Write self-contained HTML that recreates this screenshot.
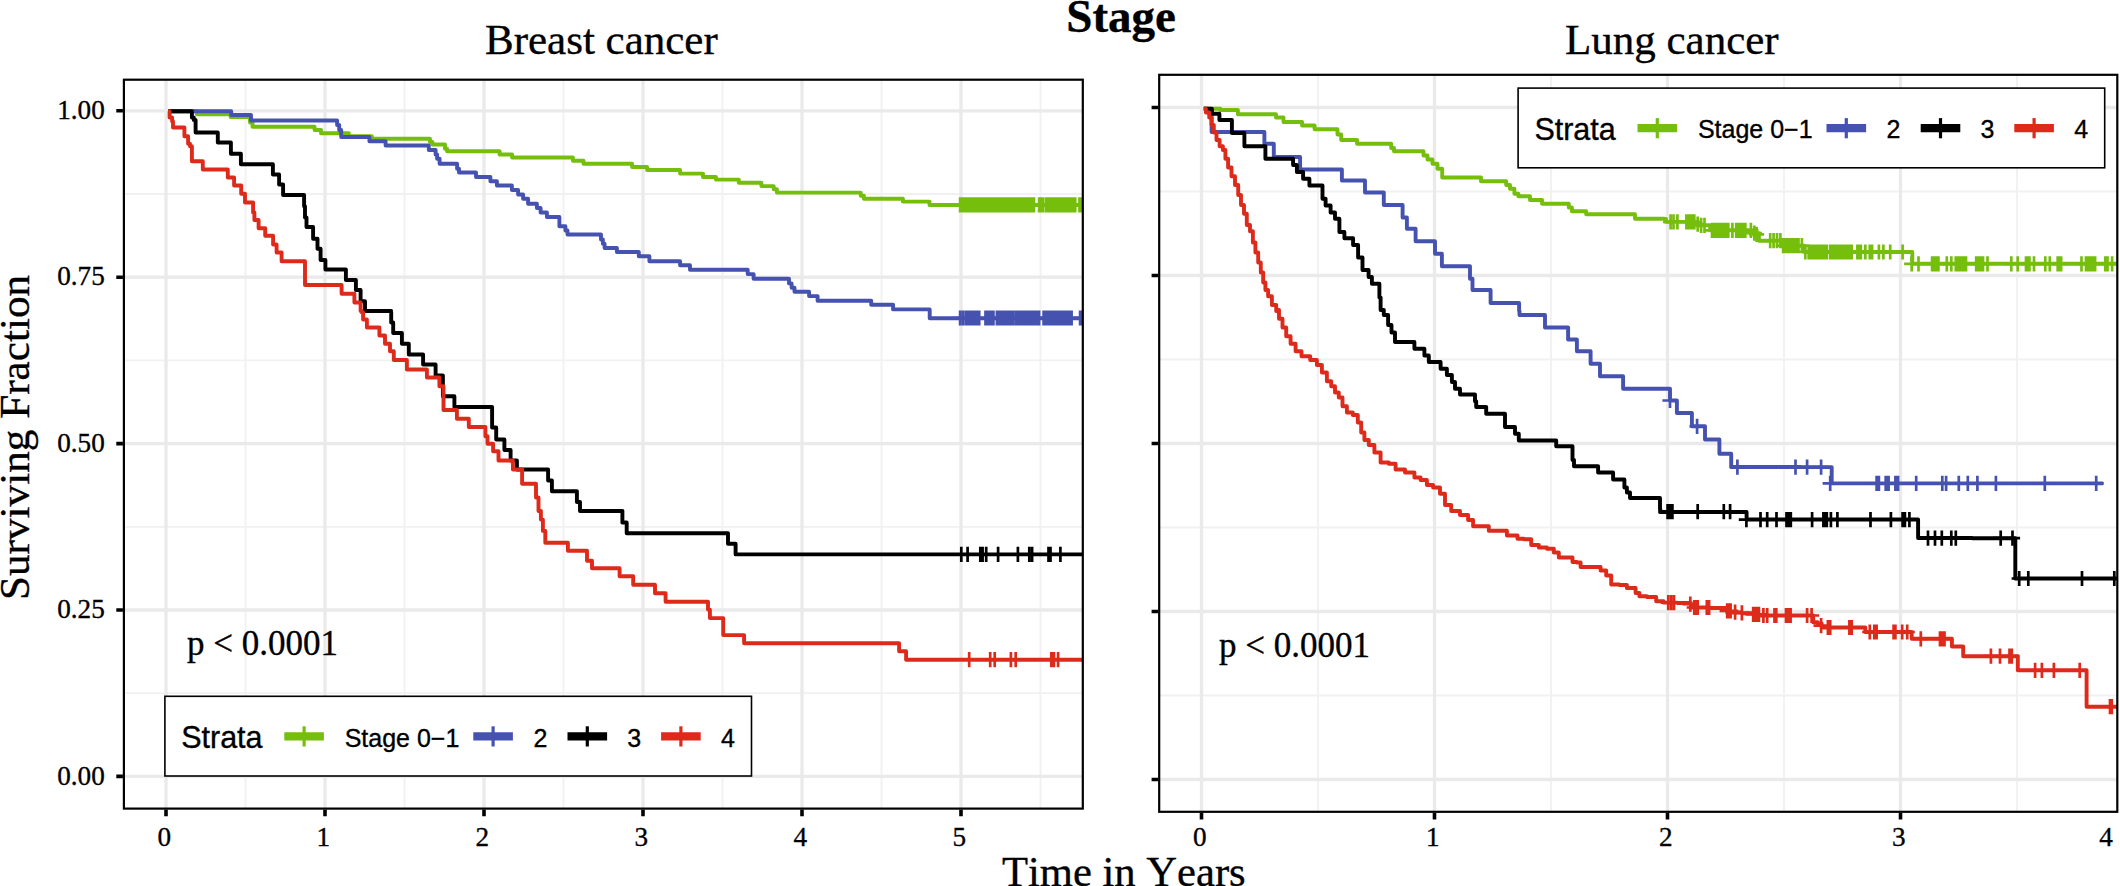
<!DOCTYPE html>
<html><head><meta charset="utf-8"><title>Stage</title>
<style>html,body{margin:0;padding:0;background:#fff}svg{display:block}text{font-kerning:none;stroke:#000;stroke-width:0.35px}</style></head>
<body>
<svg width="2120" height="886" viewBox="0 0 2120 886">
<rect width="2120" height="886" fill="#fff"/>
<clipPath id="cl"><rect x="123.9" y="79.7" width="958.9" height="728.9"/></clipPath>
<path d="M245.5,79.7V808.6M404.5,79.7V808.6M563.5,79.7V808.6M722.5,79.7V808.6M881.5,79.7V808.6M1040.5,79.7V808.6M123.9,693.2H1082.8M123.9,526.8H1082.8M123.9,360.4H1082.8M123.9,194.0H1082.8" stroke="#F1F1F1" stroke-width="1.8" fill="none"/>
<path d="M166.0,79.7V808.6M325.0,79.7V808.6M484.0,79.7V808.6M643.0,79.7V808.6M802.0,79.7V808.6M961.0,79.7V808.6M123.9,776.4H1082.8M123.9,610.0H1082.8M123.9,443.6H1082.8M123.9,277.2H1082.8M123.9,110.8H1082.8" stroke="#EAEAEA" stroke-width="3.3" fill="none"/>
<g clip-path="url(#cl)">
<path d="M168.0,111.2H196.2H196.9V114.2H197.5H230.0H230.6V117.0H231.2H248.8H250.0V122.5H251.2H252.5V126.8H253.8H313.8H314.6V130.0H315.5H320.0H321.0V133.2H322.0H347.5H348.8V136.2H350.0H371.2H371.9V138.8H372.5H428.8H430.0V142.0H431.2H432.5V144.5H433.8H443.8H445.0V148.8H446.2H447.1V151.2H448.0H498.8H499.6V154.5H500.5H511.2H512.1V157.5H513.0H572.0H572.9V160.8H573.8H582.5H583.5V163.8H584.5H631.2H632.1V167.0H633.0H646.2H647.1V170.0H648.0H680.0H680.1V173.6H680.2H702.3H703.0V177.0H703.6H715.3H715.9V179.6H716.6H738.1H738.8V182.7H739.4H760.7H761.4V186.1H762.0H772.4H773.7V189.2H775.0H776.9V192.6H778.9H859.4H860.7V195.7H862.0H863.9V198.8H865.9H902.2H902.9V201.6H903.5H928.7H929.5V205.0H930.2H1082.6" stroke="#76BE0C" stroke-width="3.9" fill="none" stroke-linejoin="round" stroke-linecap="butt"/>
<path d="M960.1,197.2v15.2M952.5,204.8h15.2M962.0,197.2v15.2M954.4,204.8h15.2M963.9,197.2v15.2M956.3,204.8h15.2M965.8,197.2v15.2M958.2,204.8h15.2M967.7,197.2v15.2M960.1,204.8h15.2M969.6,197.2v15.2M962.0,204.8h15.2M971.5,197.2v15.2M963.9,204.8h15.2M973.4,197.2v15.2M965.8,204.8h15.2M975.3,197.2v15.2M967.7,204.8h15.2M977.2,197.2v15.2M969.6,204.8h15.2M979.1,197.2v15.2M971.5,204.8h15.2M980.9,197.2v15.2M973.3,204.8h15.2M982.8,197.2v15.2M975.2,204.8h15.2M984.7,197.2v15.2M977.1,204.8h15.2M986.6,197.2v15.2M979.0,204.8h15.2M988.5,197.2v15.2M980.9,204.8h15.2M990.4,197.2v15.2M982.8,204.8h15.2M992.3,197.2v15.2M984.7,204.8h15.2M994.2,197.2v15.2M986.6,204.8h15.2M996.1,197.2v15.2M988.5,204.8h15.2M998.0,197.2v15.2M990.4,204.8h15.2M999.9,197.2v15.2M992.3,204.8h15.2M1001.8,197.2v15.2M994.2,204.8h15.2M1003.7,197.2v15.2M996.1,204.8h15.2M1005.6,197.2v15.2M998.0,204.8h15.2M1007.5,197.2v15.2M999.9,204.8h15.2M1009.4,197.2v15.2M1001.8,204.8h15.2M1011.3,197.2v15.2M1003.7,204.8h15.2M1013.2,197.2v15.2M1005.6,204.8h15.2M1015.1,197.2v15.2M1007.5,204.8h15.2M1017.0,197.2v15.2M1009.4,204.8h15.2M1018.8,197.2v15.2M1011.2,204.8h15.2M1020.7,197.2v15.2M1013.1,204.8h15.2M1022.6,197.2v15.2M1015.0,204.8h15.2M1024.5,197.2v15.2M1016.9,204.8h15.2M1026.4,197.2v15.2M1018.8,204.8h15.2M1028.3,197.2v15.2M1020.7,204.8h15.2M1030.2,197.2v15.2M1022.6,204.8h15.2M1032.1,197.2v15.2M1024.5,204.8h15.2M1034.0,197.2v15.2M1026.4,204.8h15.2M1039.1,197.2v15.2M1031.5,204.8h15.2M1040.9,197.2v15.2M1033.3,204.8h15.2M1042.9,197.2v15.2M1035.3,204.8h15.2M1046.0,197.2v15.2M1038.4,204.8h15.2M1047.9,197.2v15.2M1040.3,204.8h15.2M1049.9,197.2v15.2M1042.3,204.8h15.2M1051.8,197.2v15.2M1044.2,204.8h15.2M1053.8,197.2v15.2M1046.2,204.8h15.2M1055.7,197.2v15.2M1048.1,204.8h15.2M1057.7,197.2v15.2M1050.1,204.8h15.2M1059.6,197.2v15.2M1052.0,204.8h15.2M1061.6,197.2v15.2M1054.0,204.8h15.2M1063.5,197.2v15.2M1055.9,204.8h15.2M1065.5,197.2v15.2M1057.9,204.8h15.2M1067.4,197.2v15.2M1059.8,204.8h15.2M1069.4,197.2v15.2M1061.8,204.8h15.2M1071.3,197.2v15.2M1063.7,204.8h15.2M1073.3,197.2v15.2M1065.7,204.8h15.2M1075.2,197.2v15.2M1067.6,204.8h15.2M1079.5,197.2v15.2M1071.9,204.8h15.2M1081.3,197.2v15.2M1073.7,204.8h15.2" stroke="#76BE0C" stroke-width="2.7" fill="none"/>
<path d="M168.0,111.2H230.5H231.2V115.0H232.0H250.0H251.0V120.5H252.0H336.2H337.1V125.0H338.0H339.2V130.0H340.5H341.2V137.0H342.0H368.8H369.4V141.2H370.0H385.0H385.6V145.5H386.2H428.0H428.8V150.0H429.5H435.0H435.6V154.5H436.2H437.1V158.8H438.0H439.6V163.8H441.2H456.2H457.1V168.8H458.0H459.0V172.5H460.0H475.0H476.0V177.0H477.0H489.5H490.4V181.2H491.2H496.2H496.9V185.5H497.5H511.2H511.9V190.0H512.5H517.5H518.1V194.5H518.8H522.5H523.1V198.8H523.8H527.5H528.1V203.8H528.8H536.2H536.9V208.0H537.5H540.0H540.6V212.5H541.2H546.2H546.9V217.0H547.5H558.8H559.4V226.2H560.0H564.5H565.4V230.5H566.2H567.5V234.5H568.8H600.0H601.0V239.5H602.0H602.9V243.8H603.8H604.6V248.0H605.5H616.2H616.9V252.0H617.5H638.0H638.8V256.2H639.5H648.8H649.4V261.2H650.0H680.0H680.1V265.2H680.2H689.3H690.0V269.7H690.6H747.0H747.7V274.1H748.5H752.9H753.6V278.7H754.2H788.0H789.0V283.4H790.1H791.6V287.8H793.2H794.5V291.7H795.8H808.2H809.1V296.1H810.0H816.5H817.6V300.8H818.6H870.5H871.2V304.7H871.8H892.3H893.1V309.4H893.9H928.7H929.7V318.2H930.8H1082.6" stroke="#4652B0" stroke-width="3.9" fill="none" stroke-linejoin="round" stroke-linecap="butt"/>
<path d="M960.1,310.4v15.2M952.5,318.0h15.2M962.9,310.4v15.2M955.3,318.0h15.2M965.8,310.4v15.2M958.2,318.0h15.2M967.7,310.4v15.2M960.1,318.0h15.2M969.6,310.4v15.2M962.0,318.0h15.2M971.5,310.4v15.2M963.9,318.0h15.2M973.4,310.4v15.2M965.8,318.0h15.2M975.4,310.4v15.2M967.8,318.0h15.2M977.3,310.4v15.2M969.7,318.0h15.2M979.2,310.4v15.2M971.6,318.0h15.2M985.5,310.4v15.2M977.9,318.0h15.2M987.5,310.4v15.2M979.9,318.0h15.2M989.4,310.4v15.2M981.8,318.0h15.2M991.4,310.4v15.2M983.8,318.0h15.2M993.4,310.4v15.2M985.8,318.0h15.2M996.9,310.4v15.2M989.3,318.0h15.2M998.7,310.4v15.2M991.1,318.0h15.2M1000.5,310.4v15.2M992.9,318.0h15.2M1002.9,310.4v15.2M995.3,318.0h15.2M1004.9,310.4v15.2M997.3,318.0h15.2M1006.8,310.4v15.2M999.2,318.0h15.2M1008.8,310.4v15.2M1001.2,318.0h15.2M1010.7,310.4v15.2M1003.1,318.0h15.2M1012.7,310.4v15.2M1005.1,318.0h15.2M1015.5,310.4v15.2M1007.9,318.0h15.2M1017.6,310.4v15.2M1010.0,318.0h15.2M1019.7,310.4v15.2M1012.1,318.0h15.2M1021.7,310.4v15.2M1014.1,318.0h15.2M1023.8,310.4v15.2M1016.2,318.0h15.2M1025.9,310.4v15.2M1018.3,318.0h15.2M1027.7,310.4v15.2M1020.1,318.0h15.2M1029.8,310.4v15.2M1022.2,318.0h15.2M1032.0,310.4v15.2M1024.4,318.0h15.2M1033.8,310.4v15.2M1026.2,318.0h15.2M1035.6,310.4v15.2M1028.0,318.0h15.2M1037.3,310.4v15.2M1029.7,318.0h15.2M1039.1,310.4v15.2M1031.5,318.0h15.2M1043.6,310.4v15.2M1036.0,318.0h15.2M1045.5,310.4v15.2M1037.9,318.0h15.2M1047.5,310.4v15.2M1039.9,318.0h15.2M1049.5,310.4v15.2M1041.9,318.0h15.2M1051.5,310.4v15.2M1043.9,318.0h15.2M1053.5,310.4v15.2M1045.9,318.0h15.2M1055.5,310.4v15.2M1047.9,318.0h15.2M1057.5,310.4v15.2M1049.9,318.0h15.2M1059.5,310.4v15.2M1051.9,318.0h15.2M1061.5,310.4v15.2M1053.9,318.0h15.2M1063.5,310.4v15.2M1055.9,318.0h15.2M1065.9,310.4v15.2M1058.3,318.0h15.2M1067.8,310.4v15.2M1060.2,318.0h15.2M1069.7,310.4v15.2M1062.1,318.0h15.2M1071.6,310.4v15.2M1064.0,318.0h15.2M1080.1,310.4v15.2M1072.5,318.0h15.2M1081.3,310.4v15.2M1073.7,318.0h15.2" stroke="#4652B0" stroke-width="2.7" fill="none"/>
<path d="M168.0,111.2H191.2H191.9V117.5H192.5H193.8V120.0H195.0H195.6V132.5H196.2H217.5H217.8V142.5H218.0H230.5H230.9V153.8H231.2H240.5H240.9V164.2H241.2H272.5H272.9V174.5H273.2H278.8H279.1V184.5H279.5H282.5H283.1V195.0H283.8H303.8H304.1V206.2H304.5H305.0V217.5H305.5H306.5V227.0H307.5H312.5H313.1V238.8H313.8H317.0H317.5V248.8H318.0H320.0H320.6V260.0H321.2H325.0H325.4V269.5H325.8H345.5H345.9V280.0H346.2H355.5H355.9V290.0H356.2H360.0H360.6V301.2H361.2H364.5H365.0V311.0H365.5H391.2H390.9V312.0H390.5H391.2V322.5H392.0H393.2V333.0H394.5H401.2H401.9V343.8H402.5H408.0H408.8V354.5H409.5H422.5H423.1V364.5H423.8H435.0H435.6V375.5H436.2H442.0H442.9V396.2H443.8H453.8H454.4V407.0H455.0H491.2H492.1V427.5H493.0H495.5H496.2V439.5H497.0H503.8H504.4V450.0H505.0H510.0H510.6V460.5H511.2H516.2H516.9V469.5H517.5H547.5H548.1V480.5H548.8H551.2H551.9V491.2H552.5H576.2H576.9V502.0H577.5H579.5H580.0V511.0H580.5H622.5H622.4V522.5H622.3H625.9H626.7V533.2H627.4H727.3H728.0V543.7H728.7H734.9H735.6V554.4H736.3H1083.6" stroke="#000000" stroke-width="3.9" fill="none" stroke-linejoin="round" stroke-linecap="butt"/>
<path d="M961.3,546.8v15.2M953.7,554.4h15.2M967.6,546.8v15.2M960.0,554.4h15.2M980.3,546.8v15.2M972.7,554.4h15.2M982.6,546.8v15.2M975.0,554.4h15.2M986.2,546.8v15.2M978.6,554.4h15.2M998.1,546.8v15.2M990.5,554.4h15.2M1017.9,546.8v15.2M1010.3,554.4h15.2M1029.3,546.8v15.2M1021.7,554.4h15.2M1032.1,546.8v15.2M1024.5,554.4h15.2M1048.5,546.8v15.2M1040.9,554.4h15.2M1050.5,546.8v15.2M1042.9,554.4h15.2M1060.4,546.8v15.2M1052.8,554.4h15.2" stroke="#000000" stroke-width="2.7" fill="none"/>
<path d="M168.0,111.2H169.6V117.5H171.2H172.1V121.2H173.0V127.5H183.8H184.4V136.2H185.0H187.5H188.1V143.8H188.8H190.0V146.2H191.2H191.9V161.2H192.5H202.5H202.8V169.5H203.0H227.5H227.8V177.5H228.0H233.8H234.1V185.5H234.5H240.5H241.2V193.8H242.0H244.5H245.0V202.5H245.5H252.5H253.1V212.5H253.8H254.4V220.0H255.0H258.0H258.6V228.2H259.2H265.0H265.2V235.8H265.5H272.5H273.1V244.5H273.8H276.2H276.6V252.5H277.0H281.2H281.6V261.2H282.0H304.5H305.0V285.0H305.5H341.2H341.6V293.8H342.0H353.8H354.4V302.5H355.0H360.0H360.6V311.0H361.2H361.9V312.5H362.5H363.1V319.5H363.8H366.2H366.9V327.5H367.5H378.8H379.4V335.5H380.0H384.5H385.0V343.8H385.5H389.5H390.0V351.2H390.5H393.0H393.8V360.0H394.5H406.2H406.9V369.5H407.5H426.2H426.9V377.5H427.5H438.8H439.4V386.2H440.0H442.5H443.5V410.0H444.5H456.2H456.9V418.8H457.5H468.0H468.8V427.0H469.5H484.5H485.4V436.2H486.2H487.5V443.8H488.8H492.5H493.1V451.2H493.8H497.5H498.5V460.5H499.5H512.0H512.9V469.5H513.8H521.2H522.1V483.8H523.0H535.0H536.0V497.5H537.0H538.5V511.0H540.0H540.9V519.6H541.9H542.9V530.9H543.9H545.3V542.8H546.7H567.4H567.9V550.8H568.5H586.3H587.0V560.7H587.7H591.1H592.0V568.3H592.8H618.9H619.6V576.2H620.3H632.5H633.2V584.7H633.9H654.2H655.0V593.2H655.7H664.7H665.6V601.7H666.4H707.2H708.0V609.6H708.9H709.9V618.1H710.9H722.2H723.2V635.1H724.2H743.4H744.1V643.3H744.8H898.5H899.1V651.2H899.6H905.3H906.1V659.7H907.0H1083.6" stroke="#DE2A1B" stroke-width="3.9" fill="none" stroke-linejoin="round" stroke-linecap="butt"/>
<path d="M969.2,652.1v15.2M961.6,659.7h15.2M990.2,652.1v15.2M982.6,659.7h15.2M994.7,652.1v15.2M987.1,659.7h15.2M1010.9,652.1v15.2M1003.3,659.7h15.2M1015.7,652.1v15.2M1008.1,659.7h15.2M1051.3,652.1v15.2M1043.7,659.7h15.2M1053.9,652.1v15.2M1046.3,659.7h15.2M1058.1,652.1v15.2M1050.5,659.7h15.2" stroke="#DE2A1B" stroke-width="2.7" fill="none"/>
</g>
<g transform="translate(0.0,0.0)">
<rect x="164.9" y="696.3" width="586.6" height="79.7" fill="#fff" stroke="#000" stroke-width="1.6"/>
<text x="181.2" y="747.8" font-family="Liberation Sans, Arial, Helvetica, sans-serif" font-size="30.5">Strata</text>
<path d="M284.3,736.4h39.6" stroke="#76BE0C" stroke-width="8.3" fill="none"/>
<path d="M304.1,726.3v20.2" stroke="#76BE0C" stroke-width="3.2" fill="none"/>
<path d="M473.3,736.4h39.6" stroke="#4652B0" stroke-width="8.3" fill="none"/>
<path d="M493.1,726.3v20.2" stroke="#4652B0" stroke-width="3.2" fill="none"/>
<path d="M567.5,736.4h39.6" stroke="#000000" stroke-width="8.3" fill="none"/>
<path d="M587.3,726.3v20.2" stroke="#000000" stroke-width="3.2" fill="none"/>
<path d="M661.1,736.4h39.6" stroke="#DE2A1B" stroke-width="8.3" fill="none"/>
<path d="M680.9,726.3v20.2" stroke="#DE2A1B" stroke-width="3.2" fill="none"/>
<text x="344.7" y="746.6" font-family="Liberation Sans, Arial, Helvetica, sans-serif" font-size="25">Stage 0−1</text>
<text x="533.4" y="746.6" font-family="Liberation Sans, Arial, Helvetica, sans-serif" font-size="25">2</text>
<text x="627.3" y="746.6" font-family="Liberation Sans, Arial, Helvetica, sans-serif" font-size="25">3</text>
<text x="721.0" y="746.6" font-family="Liberation Sans, Arial, Helvetica, sans-serif" font-size="25">4</text>
</g>
<text x="186.9" y="654.5" font-family="Liberation Serif, Times New Roman, Times, serif" font-size="35">p &lt; 0.0001</text>
<rect x="123.9" y="79.7" width="958.9" height="728.9" fill="none" stroke="#000" stroke-width="2.2"/>
<path d="M122.9,776.4h-6.6M122.9,610.0h-6.6M122.9,443.6h-6.6M122.9,277.2h-6.6M122.9,110.8h-6.6M166.0,809.6v6.6M325.0,809.6v6.6M484.0,809.6v6.6M643.0,809.6v6.6M802.0,809.6v6.6M961.0,809.6v6.6" stroke="#000" stroke-width="3.6" fill="none"/>
<text x="104.8" y="784.6" text-anchor="end" font-family="Liberation Serif, Times New Roman, Times, serif" font-size="27.2">0.00</text>
<text x="104.8" y="618.2" text-anchor="end" font-family="Liberation Serif, Times New Roman, Times, serif" font-size="27.2">0.25</text>
<text x="104.8" y="451.8" text-anchor="end" font-family="Liberation Serif, Times New Roman, Times, serif" font-size="27.2">0.50</text>
<text x="104.8" y="285.4" text-anchor="end" font-family="Liberation Serif, Times New Roman, Times, serif" font-size="27.2">0.75</text>
<text x="104.8" y="119.0" text-anchor="end" font-family="Liberation Serif, Times New Roman, Times, serif" font-size="27.2">1.00</text>
<text x="164.4" y="846" text-anchor="middle" font-family="Liberation Serif, Times New Roman, Times, serif" font-size="27.2">0</text>
<text x="323.4" y="846" text-anchor="middle" font-family="Liberation Serif, Times New Roman, Times, serif" font-size="27.2">1</text>
<text x="482.4" y="846" text-anchor="middle" font-family="Liberation Serif, Times New Roman, Times, serif" font-size="27.2">2</text>
<text x="641.4" y="846" text-anchor="middle" font-family="Liberation Serif, Times New Roman, Times, serif" font-size="27.2">3</text>
<text x="800.4" y="846" text-anchor="middle" font-family="Liberation Serif, Times New Roman, Times, serif" font-size="27.2">4</text>
<text x="959.4" y="846" text-anchor="middle" font-family="Liberation Serif, Times New Roman, Times, serif" font-size="27.2">5</text>
<clipPath id="cr"><rect x="1159.2" y="74.8" width="958.1" height="737.0"/></clipPath>
<path d="M1318.0,74.8V811.8M1551.0,74.8V811.8M1784.0,74.8V811.8M2017.0,74.8V811.8M1159.2,695.5H2117.3M1159.2,527.5H2117.3M1159.2,359.5H2117.3M1159.2,191.5H2117.3" stroke="#F1F1F1" stroke-width="1.8" fill="none"/>
<path d="M1201.5,74.8V811.8M1434.5,74.8V811.8M1667.5,74.8V811.8M1900.5,74.8V811.8M1159.2,779.5H2117.3M1159.2,611.5H2117.3M1159.2,443.5H2117.3M1159.2,275.5H2117.3M1159.2,107.5H2117.3" stroke="#EAEAEA" stroke-width="3.3" fill="none"/>
<g clip-path="url(#cr)">
<path d="M1203.8,108.8H1220.4V110.0H1237.0H1237.9V114.2H1238.8H1275.0H1276.0V117.5H1277.0H1282.5H1283.5V122.0H1284.5H1301.2H1302.1V125.5H1303.0H1313.8H1314.6V129.2H1315.5H1336.2H1337.5V134.5H1338.8H1341.2V140.0H1343.8H1356.2H1357.1V143.8H1358.0H1390.0H1391.2V148.0H1392.5H1394.0V151.2H1395.5H1422.0H1423.5V155.5H1425.0H1427.5V159.5H1430.0H1432.5V163.8H1435.0H1437.5V168.8H1440.0H1442.2V177.5H1444.5H1480.0H1481.0V181.2H1482.0H1505.0H1506.2V185.0H1507.5H1510.0V188.8H1512.5H1514.4V193.8H1516.2H1518.4V196.2H1520.5H1528.8H1530.0V200.0H1531.2H1541.2H1542.1V203.8H1543.0H1567.5H1568.8V207.5H1570.0H1571.9V211.2H1573.8H1585.0H1586.2V214.2H1587.5H1633.8H1635.0V218.8H1636.2H1663.8H1664.3V218.9H1664.9H1666.0V221.9H1667.2H1696.6H1697.5V225.3H1698.4H1707.9H1710.2V230.3H1712.5H1750.9H1752.1V233.2H1753.2H1757.7H1758.9V240.7H1760.0H1780.4H1782.1V245.7H1783.8H1803.0H1804.2V252.0H1805.3H1911.7H1912.3V263.8H1912.8H2118.2" stroke="#76BE0C" stroke-width="3.9" fill="none" stroke-linejoin="round" stroke-linecap="butt"/>
<path d="M1670.6,214.3v15.2M1663.0,221.9h15.2M1673.5,214.3v15.2M1665.9,221.9h15.2M1677.4,214.3v15.2M1669.8,221.9h15.2M1686.4,214.3v15.2M1678.8,221.9h15.2M1688.4,214.3v15.2M1680.8,221.9h15.2M1690.4,214.3v15.2M1682.8,221.9h15.2M1692.4,214.3v15.2M1684.8,221.9h15.2M1694.3,214.3v15.2M1686.7,221.9h15.2M1697.7,216.6v15.2M1690.1,224.2h15.2M1701.1,217.7v15.2M1693.5,225.3h15.2M1704.5,217.7v15.2M1696.9,225.3h15.2M1712.0,222.7v15.2M1704.4,230.3h15.2M1713.8,222.7v15.2M1706.2,230.3h15.2M1715.6,222.7v15.2M1708.0,230.3h15.2M1717.4,222.7v15.2M1709.8,230.3h15.2M1719.2,222.7v15.2M1711.6,230.3h15.2M1721.1,222.7v15.2M1713.5,230.3h15.2M1722.9,222.7v15.2M1715.3,230.3h15.2M1724.7,222.7v15.2M1717.1,230.3h15.2M1726.5,222.7v15.2M1718.9,230.3h15.2M1728.3,222.7v15.2M1720.7,230.3h15.2M1732.4,222.7v15.2M1724.8,230.3h15.2M1736.2,222.7v15.2M1728.6,230.3h15.2M1738.0,222.7v15.2M1730.4,230.3h15.2M1739.8,222.7v15.2M1732.2,230.3h15.2M1741.7,222.7v15.2M1734.1,230.3h15.2M1743.5,222.7v15.2M1735.9,230.3h15.2M1745.3,222.7v15.2M1737.7,230.3h15.2M1750.9,222.7v15.2M1743.3,230.3h15.2M1754.3,225.6v15.2M1746.7,233.2h15.2M1756.6,226.7v15.2M1749.0,234.3h15.2M1770.2,233.1v15.2M1762.6,240.7h15.2M1773.6,233.1v15.2M1766.0,240.7h15.2M1777.0,233.1v15.2M1769.4,240.7h15.2M1780.4,233.1v15.2M1772.8,240.7h15.2M1783.1,238.1v15.2M1775.5,245.7h15.2M1785.0,238.1v15.2M1777.4,245.7h15.2M1786.9,238.1v15.2M1779.3,245.7h15.2M1788.9,238.1v15.2M1781.3,245.7h15.2M1790.8,238.1v15.2M1783.2,245.7h15.2M1792.7,238.1v15.2M1785.1,245.7h15.2M1794.6,238.1v15.2M1787.0,245.7h15.2M1796.6,238.1v15.2M1789.0,245.7h15.2M1798.5,238.1v15.2M1790.9,245.7h15.2M1801.9,238.1v15.2M1794.3,245.7h15.2M1805.3,244.4v15.2M1797.7,252.0h15.2M1808.7,244.4v15.2M1801.1,252.0h15.2M1810.6,244.4v15.2M1803.0,252.0h15.2M1812.5,244.4v15.2M1804.9,252.0h15.2M1814.3,244.4v15.2M1806.7,252.0h15.2M1816.2,244.4v15.2M1808.6,252.0h15.2M1818.1,244.4v15.2M1810.5,252.0h15.2M1820.0,244.4v15.2M1812.4,252.0h15.2M1822.3,244.4v15.2M1814.7,252.0h15.2M1824.5,244.4v15.2M1816.9,252.0h15.2M1826.8,244.4v15.2M1819.2,252.0h15.2M1830.2,244.4v15.2M1822.6,252.0h15.2M1832.1,244.4v15.2M1824.5,252.0h15.2M1834.1,244.4v15.2M1826.5,252.0h15.2M1836.1,244.4v15.2M1828.5,252.0h15.2M1838.0,244.4v15.2M1830.4,252.0h15.2M1840.0,244.4v15.2M1832.4,252.0h15.2M1841.9,244.4v15.2M1834.3,252.0h15.2M1843.9,244.4v15.2M1836.3,252.0h15.2M1845.8,244.4v15.2M1838.2,252.0h15.2M1847.8,244.4v15.2M1840.2,252.0h15.2M1849.7,244.4v15.2M1842.1,252.0h15.2M1851.7,244.4v15.2M1844.1,252.0h15.2M1857.4,244.4v15.2M1849.8,252.0h15.2M1859.1,244.4v15.2M1851.5,252.0h15.2M1860.8,244.4v15.2M1853.2,252.0h15.2M1865.3,244.4v15.2M1857.7,252.0h15.2M1869.8,244.4v15.2M1862.2,252.0h15.2M1872.1,244.4v15.2M1864.5,252.0h15.2M1878.9,244.4v15.2M1871.3,252.0h15.2M1883.4,244.4v15.2M1875.8,252.0h15.2M1890.2,244.4v15.2M1882.6,252.0h15.2M1902.6,244.4v15.2M1895.0,252.0h15.2M1911.7,256.2v15.2M1904.1,263.8h15.2M1918.5,256.2v15.2M1910.9,263.8h15.2M1932.1,256.2v15.2M1924.5,263.8h15.2M1934.2,256.2v15.2M1926.6,263.8h15.2M1936.3,256.2v15.2M1928.7,263.8h15.2M1938.4,256.2v15.2M1930.8,263.8h15.2M1946.8,256.2v15.2M1939.2,263.8h15.2M1951.3,256.2v15.2M1943.7,263.8h15.2M1955.8,256.2v15.2M1948.2,263.8h15.2M1957.9,256.2v15.2M1950.3,263.8h15.2M1959.9,256.2v15.2M1952.3,263.8h15.2M1962.0,256.2v15.2M1954.4,263.8h15.2M1964.0,256.2v15.2M1956.4,263.8h15.2M1966.0,256.2v15.2M1958.4,263.8h15.2M1976.2,256.2v15.2M1968.6,263.8h15.2M1977.9,256.2v15.2M1970.3,263.8h15.2M1979.6,256.2v15.2M1972.0,263.8h15.2M1981.3,256.2v15.2M1973.7,263.8h15.2M1983.0,256.2v15.2M1975.4,263.8h15.2M1987.5,256.2v15.2M1979.9,263.8h15.2M2011.3,256.2v15.2M2003.7,263.8h15.2M2017.7,256.2v15.2M2010.1,263.8h15.2M2026.0,256.2v15.2M2018.4,263.8h15.2M2027.7,256.2v15.2M2020.1,263.8h15.2M2029.4,256.2v15.2M2021.8,263.8h15.2M2034.0,256.2v15.2M2026.4,263.8h15.2M2045.3,256.2v15.2M2037.7,263.8h15.2M2049.8,256.2v15.2M2042.2,263.8h15.2M2057.7,256.2v15.2M2050.1,263.8h15.2M2059.4,256.2v15.2M2051.8,263.8h15.2M2061.1,256.2v15.2M2053.5,263.8h15.2M2081.5,256.2v15.2M2073.9,263.8h15.2M2086.0,256.2v15.2M2078.4,263.8h15.2M2087.8,256.2v15.2M2080.2,263.8h15.2M2089.7,256.2v15.2M2082.1,263.8h15.2M2091.5,256.2v15.2M2083.9,263.8h15.2M2093.3,256.2v15.2M2085.7,263.8h15.2M2095.1,256.2v15.2M2087.5,263.8h15.2M2105.3,256.2v15.2M2097.7,263.8h15.2M2107.5,256.2v15.2M2099.9,263.8h15.2M2112.1,256.2v15.2M2104.5,263.8h15.2" stroke="#76BE0C" stroke-width="2.7" fill="none"/>
<path d="M1203.8,108.8H1207.5V110.0H1211.2H1211.6V132.0H1212.0H1263.8H1264.4V143.8H1265.0H1273.0H1273.8V157.0H1274.5H1299.5H1300.1V169.5H1300.8H1341.2H1341.9V180.5H1342.5H1364.5H1365.0V192.5H1365.5H1383.0H1383.8V205.0H1384.5H1402.0H1402.6V217.5H1403.2H1406.2H1406.9V228.8H1407.5H1415.0H1415.6V241.2H1416.2H1434.5H1435.0V253.8H1435.5H1441.2H1441.9V266.2H1442.5H1469.5H1470.0V278.8H1470.5H1472.0H1472.5V290.0H1473.0H1490.0H1490.6V303.0H1491.2H1518.8H1519.1V311.0H1519.5V315.0H1544.5H1545.0V327.5H1545.5H1567.5H1568.1V339.5H1568.8H1576.2H1576.9V351.2H1577.5H1590.0H1590.6V363.8H1591.2H1599.5H1600.0V376.2H1600.5H1622.5H1623.1V388.8H1623.8H1669.5H1670.0V400.5H1670.5H1676.2H1676.9V413.0H1677.5H1691.2H1691.9V426.2H1692.5H1704.5H1705.0V439.5H1705.5H1718.8H1719.4V453.8H1720.0H1730.5H1731.2V467.0H1732.0H1770.0H1800.7V467.1H1831.3H1831.7V483.4H1832.0H2103.0" stroke="#4652B0" stroke-width="3.9" fill="none" stroke-linejoin="round" stroke-linecap="butt"/>
<path d="M1670.0,392.9v15.2M1662.4,400.5h15.2M1697.1,418.7v15.2M1689.5,426.3h15.2M1737.4,459.5v15.2M1729.8,467.1h15.2M1795.5,459.5v15.2M1787.9,467.1h15.2M1807.1,459.5v15.2M1799.5,467.1h15.2M1821.1,459.5v15.2M1813.5,467.1h15.2M1830.2,475.8v15.2M1822.6,483.4h15.2M1876.6,475.8v15.2M1869.0,483.4h15.2M1878.9,475.8v15.2M1871.3,483.4h15.2M1885.7,475.8v15.2M1878.1,483.4h15.2M1887.1,475.8v15.2M1879.5,483.4h15.2M1888.6,475.8v15.2M1881.0,483.4h15.2M1895.4,475.8v15.2M1887.8,483.4h15.2M1898.1,475.8v15.2M1890.5,483.4h15.2M1916.2,475.8v15.2M1908.6,483.4h15.2M1942.3,475.8v15.2M1934.7,483.4h15.2M1946.1,475.8v15.2M1938.5,483.4h15.2M1958.8,475.8v15.2M1951.2,483.4h15.2M1967.8,475.8v15.2M1960.2,483.4h15.2M1977.4,475.8v15.2M1969.8,483.4h15.2M1995.9,475.8v15.2M1988.3,483.4h15.2M2044.8,475.8v15.2M2037.2,483.4h15.2M2096.2,475.8v15.2M2088.6,483.4h15.2" stroke="#4652B0" stroke-width="2.7" fill="none"/>
<path d="M1203.8,108.8H1211.2H1211.9V113.8H1212.5H1218.8H1219.4V120.0H1220.0H1231.2H1231.9V133.0H1232.5H1243.8H1244.4V146.2H1245.0H1264.5H1265.4V158.8H1266.2H1292.5H1293.1V165.0H1293.8H1296.2H1296.9V172.0H1297.5H1302.5H1303.1V178.8H1303.8H1308.8H1309.4V185.5H1310.0H1322.0H1322.5V198.8H1323.0H1325.0H1325.6V205.5H1326.2H1330.0H1330.6V212.5H1331.2H1334.5H1335.0V218.8H1335.5H1338.8H1339.4V232.0H1340.0H1343.8H1344.4V238.2H1345.0H1352.5H1353.1V245.0H1353.8H1357.5H1358.1V257.5H1358.8H1362.0H1362.5V270.0H1363.0H1368.0H1368.6V277.0H1369.2H1371.2H1371.9V283.8H1372.5H1378.8H1379.4V297.5H1380.0H1380.6V310.0H1381.2H1383.8V315.0H1386.2H1388.1V325.0H1390.0H1391.5V332.5H1393.0H1395.0V342.0H1397.0H1413.8H1414.4V348.8H1415.0H1423.8H1424.4V355.5H1425.0H1428.0H1428.8V362.0H1429.5H1440.0H1440.6V368.8H1441.2H1446.2H1446.9V375.0H1447.5H1451.2H1451.9V382.0H1452.5H1454.5H1455.0V388.8H1455.5H1459.5H1460.0V394.5H1460.5H1474.5H1475.0V401.2H1475.5H1476.2V407.0H1477.0H1485.5H1486.2V413.8H1487.0H1504.5H1505.0V427.0H1505.5H1514.5H1515.0V433.8H1515.5H1518.0H1518.8V440.5H1519.5H1555.5H1556.2V446.2H1557.0H1572.0H1572.5V460.0H1573.0H1574.0V466.2H1575.0H1597.5H1598.1V472.5H1598.8H1612.5H1613.1V479.5H1613.8H1623.8H1624.4V487.5H1625.0H1626.9V492.5H1628.8H1630.0V498.0H1631.2H1659.5H1660.0V510.0H1660.5H1660.2V512.0H1660.0H1746.2H1746.6V519.5H1747.0H1917.5H1918.1V538.0H1918.8H1930.0H1972.4V538.2H2014.7H2015.3V578.5H2015.8H2116.6" stroke="#000000" stroke-width="3.9" fill="none" stroke-linejoin="round" stroke-linecap="butt"/>
<path d="M1667.6,504.1v15.2M1660.0,511.7h15.2M1669.2,504.1v15.2M1661.6,511.7h15.2M1670.8,504.1v15.2M1663.2,511.7h15.2M1672.4,504.1v15.2M1664.8,511.7h15.2M1697.7,504.1v15.2M1690.1,511.7h15.2M1723.8,504.1v15.2M1716.2,511.7h15.2M1730.1,504.1v15.2M1722.5,511.7h15.2M1746.4,512.0v15.2M1738.8,519.6h15.2M1760.5,512.0v15.2M1752.9,519.6h15.2M1767.2,512.0v15.2M1759.6,519.6h15.2M1776.5,512.0v15.2M1768.9,519.6h15.2M1786.5,512.0v15.2M1778.9,519.6h15.2M1788.6,512.0v15.2M1781.0,519.6h15.2M1790.8,512.0v15.2M1783.2,519.6h15.2M1812.1,512.0v15.2M1804.5,519.6h15.2M1823.4,512.0v15.2M1815.8,519.6h15.2M1825.1,512.0v15.2M1817.5,519.6h15.2M1826.8,512.0v15.2M1819.2,519.6h15.2M1830.9,512.0v15.2M1823.3,519.6h15.2M1837.4,512.0v15.2M1829.8,519.6h15.2M1870.5,512.0v15.2M1862.9,519.6h15.2M1890.9,512.0v15.2M1883.3,519.6h15.2M1902.6,512.0v15.2M1895.0,519.6h15.2M1904.9,512.0v15.2M1897.3,519.6h15.2M1909.4,512.0v15.2M1901.8,519.6h15.2M1928.0,530.6v15.2M1920.4,538.2h15.2M1935.0,530.6v15.2M1927.4,538.2h15.2M1941.8,530.6v15.2M1934.2,538.2h15.2M1951.3,530.6v15.2M1943.7,538.2h15.2M1955.8,530.6v15.2M1948.2,538.2h15.2M2000.7,530.6v15.2M1993.1,538.2h15.2M2012.5,530.6v15.2M2004.9,538.2h15.2M2019.2,570.9v15.2M2011.6,578.5h15.2M2028.3,570.9v15.2M2020.7,578.5h15.2M2082.0,570.9v15.2M2074.4,578.5h15.2M2114.3,570.9v15.2M2106.7,578.5h15.2" stroke="#000000" stroke-width="2.7" fill="none"/>
<path d="M1203.8,108.8H1205.9V112.5H1208.0H1209.2V117.5H1210.5H1211.5V125.0H1212.5H1213.8V132.5H1215.0H1216.5V140.0H1218.0H1219.6V146.2H1221.2H1222.9V150.0H1224.5H1225.4V158.8H1226.2H1228.1V167.5H1230.0H1231.5V176.2H1233.0H1235.0V185.0H1237.0H1238.2V195.0H1239.5H1241.0V205.0H1242.5H1244.0V213.8H1245.5H1246.8V225.0H1248.0H1250.0V231.2H1252.0H1252.9V242.5H1253.8H1255.4V252.5H1257.0H1258.2V262.5H1259.5H1260.8V272.5H1262.0H1263.2V282.5H1264.5H1265.4V290.0H1266.2H1268.1V296.2H1270.0H1271.9V305.0H1273.8H1276.2V311.0H1278.8H1278.4V310.0H1278.0H1279.0V318.8H1280.0H1282.5V327.5H1285.0H1286.2V336.2H1287.5H1290.6V343.8H1293.8H1295.6V351.2H1297.5H1301.5V356.2H1305.5H1310.2V360.0H1315.0H1316.9V365.0H1318.8H1321.9V372.5H1325.0H1326.9V381.2H1328.8H1331.2V386.2H1333.8H1335.0V392.5H1336.2H1338.8V397.5H1341.2H1342.5V406.2H1343.8H1346.9V412.5H1350.0H1352.8V415.0H1355.5H1357.8V422.5H1360.0H1361.2V432.5H1362.5H1364.4V440.0H1366.2H1368.8V445.0H1371.2H1374.4V452.5H1377.5H1380.6V462.5H1383.8H1388.8V463.8H1393.8H1395.6V469.5H1397.5H1405.0V472.5H1412.5H1414.4V477.5H1416.2H1420.6V480.0H1425.0H1426.9V485.0H1428.8H1433.1V487.5H1437.5H1440.0V493.8H1442.5H1445.0V505.0H1447.5H1451.2V511.0H1455.0H1460.0V515.0H1465.0H1468.1V520.0H1471.2H1473.1V526.2H1475.0H1485.0H1488.8V530.8H1492.5H1503.8H1506.9V535.5H1510.0H1515.0H1517.5V538.8H1520.0H1523.8V539.2H1527.5H1531.2V545.0H1535.0H1538.8V547.5H1542.5H1546.9V548.8H1551.2H1553.8V552.5H1556.2H1558.8V557.5H1561.2H1570.0H1572.5V562.0H1575.0H1576.9V562.5H1578.8H1580.6V567.0H1582.5H1597.5H1600.6V570.5H1603.8H1606.2V575.5H1608.8H1611.2V584.5H1613.8H1619.4V585.0H1625.0H1626.9V588.0H1628.8H1633.8H1635.6V593.0H1637.5H1639.4V596.2H1641.2H1646.9V597.0H1652.5H1656.2V601.2H1660.0H1663.6V602.6H1667.2H1677.4V603.0H1687.5H1690.9V607.5H1694.3H1709.1V608.0H1723.8H1727.2V612.5H1730.6H1741.9V613.2H1753.2H1756.6V615.5H1760.0H1812.1H1813.2V622.3H1814.3H1817.7V623.4H1821.1H1821.7V627.5H1822.3H1864.2H1865.3V632.0H1866.4H1910.6H1911.7V638.8H1912.8H1951.3H1951.9V646.5H1952.5H1962.6H1963.2V656.2H1963.8H2017.0H2017.8V670.3H2018.6H2086.0H2086.6V706.7H2087.2H2118.2" stroke="#DE2A1B" stroke-width="3.9" fill="none" stroke-linejoin="round" stroke-linecap="butt"/>
<path d="M1668.3,595.0v15.2M1660.7,602.6h15.2M1671.2,595.0v15.2M1663.6,602.6h15.2M1674.0,595.0v15.2M1666.4,602.6h15.2M1690.3,596.6v15.2M1682.7,604.2h15.2M1694.3,599.9v15.2M1686.7,607.5h15.2M1696.0,599.9v15.2M1688.4,607.5h15.2M1697.7,599.9v15.2M1690.1,607.5h15.2M1706.8,599.9v15.2M1699.2,607.5h15.2M1709.1,599.9v15.2M1701.5,607.5h15.2M1727.2,603.3v15.2M1719.6,610.9h15.2M1728.9,603.3v15.2M1721.3,610.9h15.2M1730.6,603.3v15.2M1723.0,610.9h15.2M1735.1,604.5v15.2M1727.5,612.1h15.2M1741.9,605.2v15.2M1734.3,612.8h15.2M1753.2,606.7v15.2M1745.6,614.3h15.2M1755.1,606.7v15.2M1747.5,614.3h15.2M1757.0,606.7v15.2M1749.4,614.3h15.2M1758.9,606.7v15.2M1751.3,614.3h15.2M1763.4,607.9v15.2M1755.8,615.5h15.2M1767.2,607.9v15.2M1759.6,615.5h15.2M1774.5,607.9v15.2M1766.9,615.5h15.2M1776.3,607.9v15.2M1768.7,615.5h15.2M1786.0,607.9v15.2M1778.4,615.5h15.2M1788.3,607.9v15.2M1780.7,615.5h15.2M1790.6,607.9v15.2M1783.0,615.5h15.2M1807.1,607.9v15.2M1799.5,615.5h15.2M1811.6,607.9v15.2M1804.0,615.5h15.2M1821.1,618.1v15.2M1813.5,625.7h15.2M1827.9,619.9v15.2M1820.3,627.5h15.2M1830.2,619.9v15.2M1822.6,627.5h15.2M1849.4,619.9v15.2M1841.8,627.5h15.2M1851.7,619.9v15.2M1844.1,627.5h15.2M1869.8,624.4v15.2M1862.2,632.0h15.2M1874.3,624.4v15.2M1866.7,632.0h15.2M1876.6,624.4v15.2M1869.0,632.0h15.2M1893.6,624.4v15.2M1886.0,632.0h15.2M1895.4,624.4v15.2M1887.8,632.0h15.2M1902.2,624.4v15.2M1894.6,632.0h15.2M1907.2,624.4v15.2M1899.6,632.0h15.2M1920.8,631.2v15.2M1913.2,638.8h15.2M1940.0,631.2v15.2M1932.4,638.8h15.2M1942.3,631.2v15.2M1934.7,638.8h15.2M1944.5,631.2v15.2M1936.9,638.8h15.2M1990.9,648.6v15.2M1983.3,656.2h15.2M2000.0,648.6v15.2M1992.4,656.2h15.2M2009.5,648.6v15.2M2001.9,656.2h15.2M2011.8,648.6v15.2M2004.2,656.2h15.2M2035.1,662.7v15.2M2027.5,670.3h15.2M2041.9,662.7v15.2M2034.3,670.3h15.2M2053.9,662.7v15.2M2046.3,670.3h15.2M2079.7,662.7v15.2M2072.1,670.3h15.2M2110.0,699.1v15.2M2102.4,706.7h15.2M2111.8,699.1v15.2M2104.2,706.7h15.2" stroke="#DE2A1B" stroke-width="2.7" fill="none"/>
</g>
<g transform="translate(1353.2,-608.2)">
<rect x="164.9" y="696.3" width="586.6" height="79.7" fill="#fff" stroke="#000" stroke-width="1.6"/>
<text x="181.2" y="747.8" font-family="Liberation Sans, Arial, Helvetica, sans-serif" font-size="30.5">Strata</text>
<path d="M284.3,736.4h39.6" stroke="#76BE0C" stroke-width="8.3" fill="none"/>
<path d="M304.1,726.3v20.2" stroke="#76BE0C" stroke-width="3.2" fill="none"/>
<path d="M473.3,736.4h39.6" stroke="#4652B0" stroke-width="8.3" fill="none"/>
<path d="M493.1,726.3v20.2" stroke="#4652B0" stroke-width="3.2" fill="none"/>
<path d="M567.5,736.4h39.6" stroke="#000000" stroke-width="8.3" fill="none"/>
<path d="M587.3,726.3v20.2" stroke="#000000" stroke-width="3.2" fill="none"/>
<path d="M661.1,736.4h39.6" stroke="#DE2A1B" stroke-width="8.3" fill="none"/>
<path d="M680.9,726.3v20.2" stroke="#DE2A1B" stroke-width="3.2" fill="none"/>
<text x="344.7" y="746.6" font-family="Liberation Sans, Arial, Helvetica, sans-serif" font-size="25">Stage 0−1</text>
<text x="533.4" y="746.6" font-family="Liberation Sans, Arial, Helvetica, sans-serif" font-size="25">2</text>
<text x="627.3" y="746.6" font-family="Liberation Sans, Arial, Helvetica, sans-serif" font-size="25">3</text>
<text x="721.0" y="746.6" font-family="Liberation Sans, Arial, Helvetica, sans-serif" font-size="25">4</text>
</g>
<text x="1219" y="656.6" font-family="Liberation Serif, Times New Roman, Times, serif" font-size="35">p &lt; 0.0001</text>
<rect x="1159.2" y="74.8" width="958.1" height="737.0" fill="none" stroke="#000" stroke-width="2.2"/>
<path d="M1158.2,779.5h-6.6M1158.2,611.5h-6.6M1158.2,443.5h-6.6M1158.2,275.5h-6.6M1158.2,107.5h-6.6M1201.5,812.8v6.6M1434.5,812.8v6.6M1667.5,812.8v6.6M1900.5,812.8v6.6" stroke="#000" stroke-width="3.6" fill="none"/>
<text x="1199.8" y="846.2" text-anchor="middle" font-family="Liberation Serif, Times New Roman, Times, serif" font-size="27.2">0</text>
<text x="1432.8" y="846.2" text-anchor="middle" font-family="Liberation Serif, Times New Roman, Times, serif" font-size="27.2">1</text>
<text x="1665.8" y="846.2" text-anchor="middle" font-family="Liberation Serif, Times New Roman, Times, serif" font-size="27.2">2</text>
<text x="1898.8" y="846.2" text-anchor="middle" font-family="Liberation Serif, Times New Roman, Times, serif" font-size="27.2">3</text>
<text x="2106" y="846.2" text-anchor="middle" font-family="Liberation Serif, Times New Roman, Times, serif" font-size="27.2">4</text>
<text x="1066.3" y="32.2" font-family="Liberation Serif, Times New Roman, Times, serif" font-size="47" font-weight="bold">Stage</text>
<text x="485" y="54.3" font-family="Liberation Serif, Times New Roman, Times, serif" font-size="43">Breast cancer</text>
<text x="1565" y="53.5" font-family="Liberation Serif, Times New Roman, Times, serif" font-size="43">Lung cancer</text>
<text x="1002" y="885.5" font-family="Liberation Serif, Times New Roman, Times, serif" font-size="42.6">Time in Years</text>
<text transform="translate(29.3,600) rotate(-90)" font-family="Liberation Serif, Times New Roman, Times, serif" font-size="43.2">Surviving Fraction</text>
</svg>
</body></html>
